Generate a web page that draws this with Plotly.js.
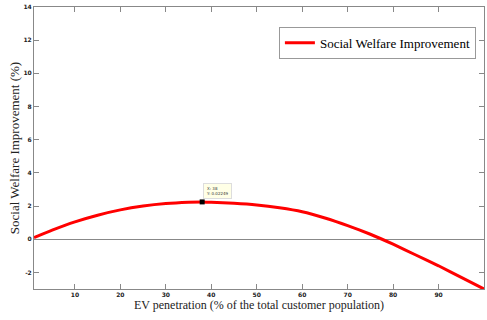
<!DOCTYPE html>
<html>
<head>
<meta charset="utf-8">
<script src="https://cdn.plot.ly/plotly-3.0.1.min.js"></script>
<style>html,body{margin:0;padding:0;background:#fff;}#chart{width:487px;height:320px;}</style>
</head>
<body>
<div id="chart"></div>
<script>
const penetration = [1,5,10,15,20,25,30,35,38,40,45,50,55,60,65,70,75,80,85,90,95,100];
const improvement = [0.1,0.55,1.05,1.45,1.77,2.0,2.15,2.23,2.25,2.23,2.17,2.07,1.9,1.66,1.28,0.82,0.3,-0.3,-0.95,-1.6,-2.3,-3.0];
const tipX = 38;
const tipY = 2.25;
const tipText = "X: 38<br>Y: 0.02249";
const seriesName = "Social Welfare Improvement";
const xTicks = [10,20,30,40,50,60,70,80,90,100];
const yTicks = [-2,0,2,4,6,8,10,12,14];

const serif = "Liberation Serif";
const tickFont = {family: "DejaVu Sans", size: 6, color: '#222', weight: 'bold'};

const traces = [
  {x: penetration, y: improvement, type: 'scatter', mode: 'lines', name: seriesName,
   line: {color: '#ff0000', width: 3, shape: 'spline', smoothing: 0.5}},
  {x: [tipX], y: [tipY], type: 'scatter', mode: 'markers', showlegend: false,
   marker: {symbol: 'square', size: 5, color: '#000'}}
];

const layout = {
  width: 487, height: 320,
  margin: {l: 34, r: 3, t: 7, b: 31, autoexpand: false},
  paper_bgcolor: '#fff', plot_bgcolor: '#fff',
  showlegend: true,
  legend: {x: 0.982, y: 0.93, xanchor: 'right', yanchor: 'top',
    bgcolor: '#fff', bordercolor: '#999', borderwidth: 1,
    font: {family: serif, size: 13, color: '#000'},
    itemwidth: 30, tracegroupgap: 0},
  xaxis: {range: [1, 100], tickvals: xTicks, ticktext: xTicks.map(String),
    ticks: 'inside', ticklen: 5, tickcolor: '#888', mirror: 'ticks',
    showline: true, linecolor: '#888', linewidth: 1, showgrid: false, zeroline: false,
    tickfont: tickFont,
    title: {text: 'EV penetration (% of the total customer population)', font: {family: serif, size: 12, color: '#222'}, standoff: 1}},
  yaxis: {range: [-3, 14], tickvals: yTicks, ticktext: yTicks.map(String),
    ticks: 'inside', ticklen: 5, tickcolor: '#888', mirror: 'ticks',
    showline: true, linecolor: '#888', linewidth: 1, showgrid: false,
    zeroline: true, zerolinecolor: '#888', zerolinewidth: 1,
    tickfont: tickFont,
    title: {text: 'Social Welfare Improvement (%)', font: {family: serif, size: 13, color: '#222'}, standoff: 0}},
  annotations: [{x: tipX, y: tipY, xref: 'x', yref: 'y', text: tipText, showarrow: false,
    xanchor: 'left', yanchor: 'bottom', xshift: 1, yshift: 3, align: 'left',
    font: {family: "DejaVu Sans", size: 4, color: '#333'},
    bgcolor: '#ffffe6', bordercolor: '#ddd', borderwidth: 1, borderpad: 2}]
};

Plotly.newPlot('chart', traces, layout, {displayModeBar: false, staticPlot: true});
</script>
</body>
</html>
